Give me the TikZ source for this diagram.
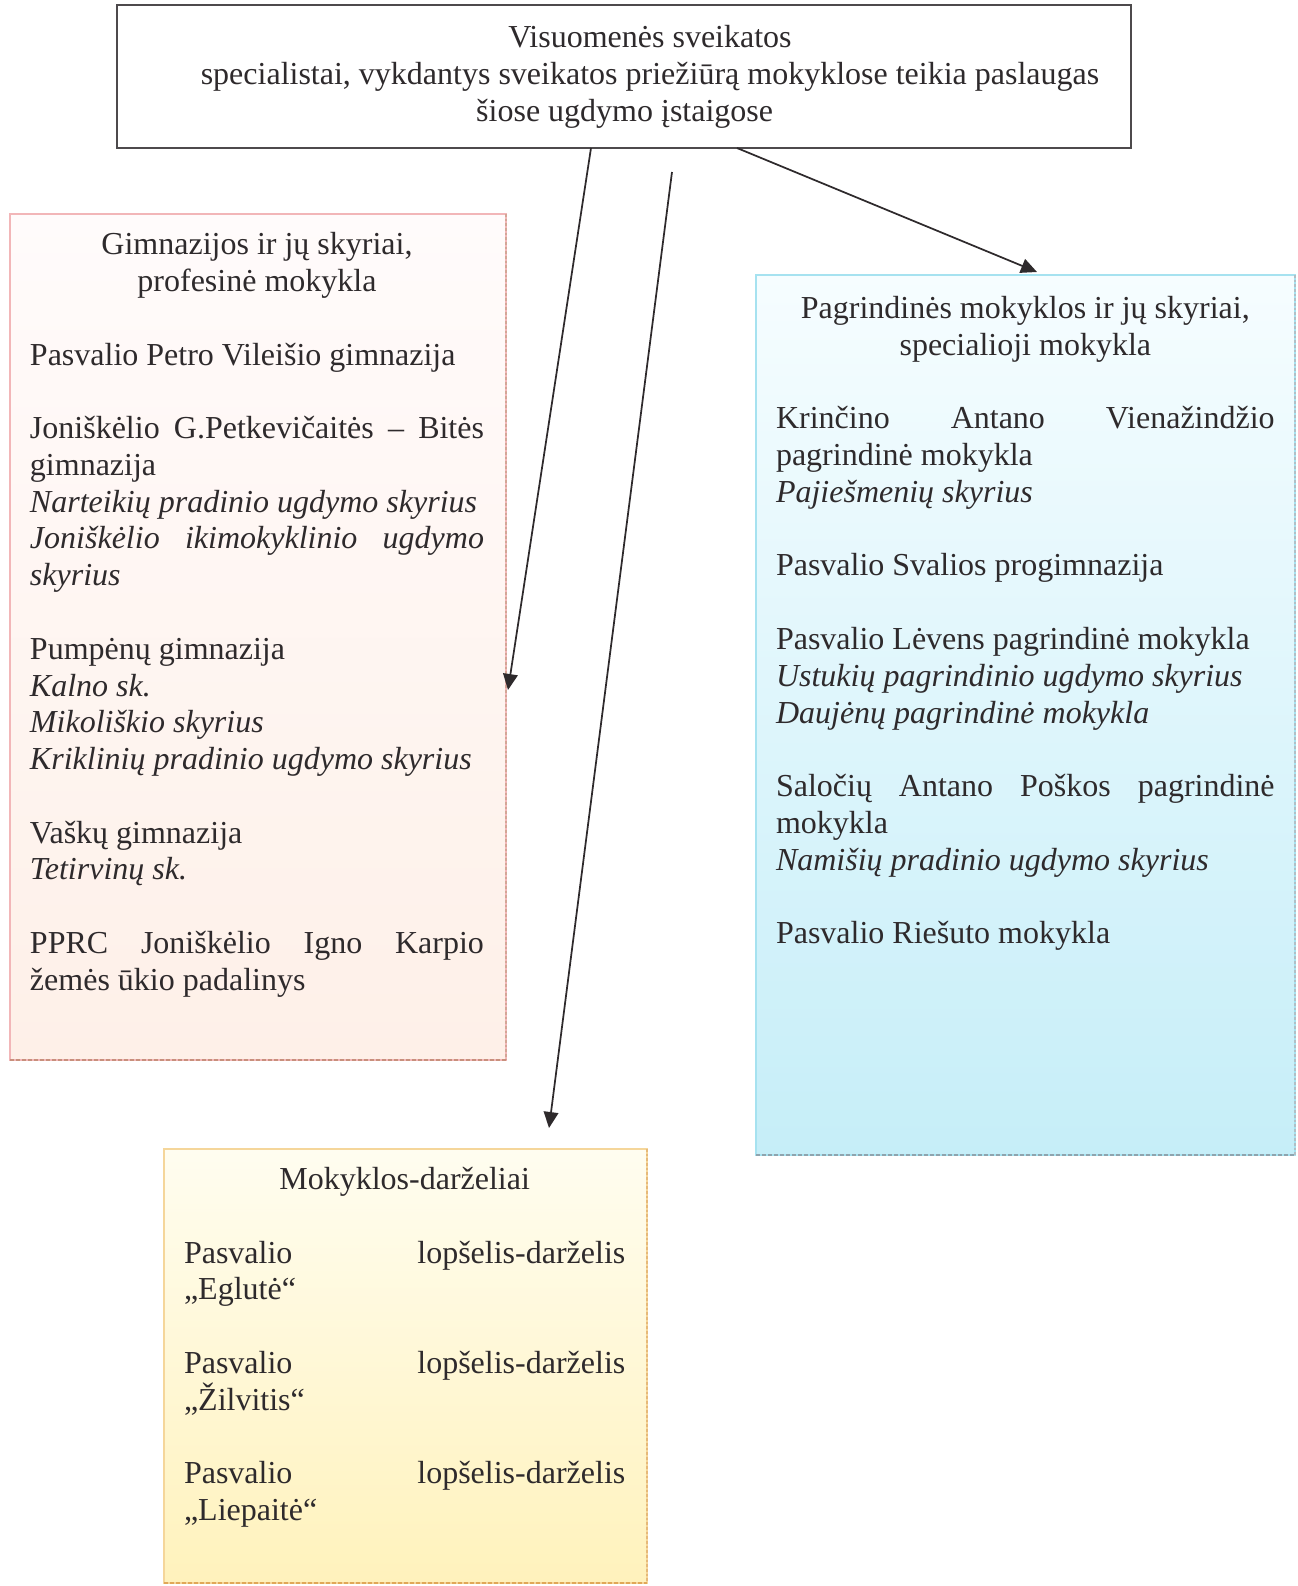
\documentclass[tikz,border=0pt]{standalone}
\usepackage{fontspec}
\setmainfont{Liberation Serif}
\usetikzlibrary{arrows.meta}
\definecolor{lefttop}{HTML}{FFFBFB}
\definecolor{leftmid}{HTML}{FFFAEF}
\definecolor{leftbot}{HTML}{FEF0E8}
\definecolor{leftedge}{HTML}{F2B6B8}
\definecolor{leftdash}{HTML}{C8907C}
\definecolor{righttop}{HTML}{F6FDFF}
\definecolor{rightbot}{HTML}{C6EEF8}
\definecolor{rightedge}{HTML}{A6E2F0}
\definecolor{rightdash}{HTML}{8FA4AE}
\definecolor{bottop}{HTML}{FFFDF0}
\definecolor{botbot}{HTML}{FFF2BC}
\definecolor{botedge}{HTML}{F5D69A}
\definecolor{botdash}{HTML}{E0A858}
\definecolor{inkline}{HTML}{2E2A2C}
\begin{document}
\begin{tikzpicture}[x=0.75pt,y=-0.75pt,
  boxbase/.style={rectangle, anchor=north west, inner sep=0pt, outer sep=0pt},
  topbox/.style={boxbase, draw=inkline!85, line width=1.5pt, fill=white},
  leftbox/.style={boxbase, draw=leftedge, line width=0.8pt, top color=lefttop, middle color=leftmid, bottom color=leftbot},
  rightbox/.style={boxbase, draw=rightedge, line width=0.8pt, top color=righttop, bottom color=rightbot},
  botbox/.style={boxbase, draw=botedge, line width=0.8pt, top color=bottop, bottom color=botbot},
  shadowdash/.style={line width=1.6pt, dash pattern=on 3pt off 1.5pt},
  edgedash/.style={line width=1pt, dash pattern=on 2pt off 1.5pt},
  txt/.style={inner sep=0pt, outer sep=0pt, anchor=base west, font=\fontsize{24pt}{27.6pt}\selectfont, text=inkline},
  arrowline/.style={draw=inkline, line width=1.3pt, -{Triangle[length=12pt,width=11pt]}}
]
\useasboundingbox (0,0) rectangle (1297,1586);

% boxes
\node[topbox, minimum width=760.5pt, minimum height=107.25pt] (top) at (117,5) {};
\node[leftbox, minimum width=372pt, minimum height=634.5pt] (left) at (10,214) {};
\node[rightbox, minimum width=404.25pt, minimum height=660pt] (right) at (756,275) {};
\node[botbox, minimum width=362.25pt, minimum height=325.5pt] (bot) at (164,1149) {};

\draw[edgedash, leftdash!80] (left.north east) -- (left.south east);
\draw[shadowdash, leftdash] (left.south west) -- (left.south east);
\draw[edgedash, rightdash!70] (right.north east) -- (right.south east);
\draw[shadowdash, rightdash] (right.south west) -- (right.south east);
\draw[edgedash, botdash!80] (bot.north east) -- (bot.south east);
\draw[shadowdash, botdash] (bot.south west) -- (bot.south east);

% texts
\node[txt, anchor=base] (toptext) at (650,47.4) {\parbox[t]{740pt}{\centering
Visuomenės sveikatos\\
specialistai, vykdantys sveikatos priežiūrą mokyklose teikia paslaugas\\
\hspace*{-38pt}šiose ugdymo įstaigose}};

\node[txt] (lefttext) at (30,254.8) {\parbox[t]{340.5pt}{\raggedright
\makebox[\linewidth]{Gimnazijos ir jų skyriai,}\\
\makebox[\linewidth]{profesinė mokykla}\\[27.5pt]
Pasvalio Petro Vileišio gimnazija\\[27.5pt]
\makebox[\linewidth][s]{Joniškėlio G.Petkevičaitės – Bitės}\\
gimnazija\\
\textit{Narteikių pradinio ugdymo skyrius}\\
\makebox[\linewidth][s]{\itshape Joniškėlio ikimokyklinio ugdymo}\\
\textit{skyrius}\\[27.5pt]
Pumpėnų gimnazija\\
\textit{Kalno sk.}\\
\textit{Mikoliškio skyrius}\\
\textit{Kriklinių pradinio ugdymo skyrius}\\[27.5pt]
Vaškų gimnazija\\
\textit{Tetirvinų sk.}\\[27.5pt]
\makebox[\linewidth][s]{PPRC Joniškėlio Igno Karpio}\\
žemės ūkio padalinys}};

\node[txt] (righttext) at (776,318.6) {\parbox[t]{374pt}{\raggedright
\makebox[\linewidth]{Pagrindinės mokyklos ir jų skyriai,}\\
\makebox[\linewidth]{specialioji mokykla}\\[27.5pt]
\makebox[\linewidth][s]{Krinčino Antano Vienažindžio}\\
pagrindinė mokykla\\
\textit{Pajiešmenių skyrius}\\[27.5pt]
Pasvalio Svalios progimnazija\\[27.5pt]
Pasvalio Lėvens pagrindinė mokykla\\
\textit{Ustukių pagrindinio ugdymo skyrius}\\
\textit{Daujėnų pagrindinė mokykla}\\[27.5pt]
\makebox[\linewidth][s]{Saločių Antano Poškos pagrindinė}\\
mokykla\\
\textit{Namišių pradinio ugdymo skyrius}\\[27.5pt]
Pasvalio Riešuto mokykla}};

\node[txt] (bottext) at (184,1189.6) {\parbox[t]{331pt}{\raggedright
\makebox[\linewidth]{Mokyklos-darželiai}\\[27.5pt]
\makebox[\linewidth][s]{Pasvalio lopšelis-darželis}\\
„Eglutė“\\[27.5pt]
\makebox[\linewidth][s]{Pasvalio lopšelis-darželis}\\
„Žilvitis“\\[27.5pt]
\makebox[\linewidth][s]{Pasvalio lopšelis-darželis}\\
„Liepaitė“}};

% arrow end points
\coordinate (t1) at (591,148);
\coordinate (l1) at (508,690);
\coordinate (t2) at (672,172);
\coordinate (b1) at (549,1128);
\coordinate (t3) at (737,148);
\coordinate (r1) at (1037,272);

\draw[arrowline] (t1) -- (l1);
\draw[arrowline] (t2) -- (b1);
\draw[arrowline] (t3) -- (r1);
\end{tikzpicture}
\end{document}
